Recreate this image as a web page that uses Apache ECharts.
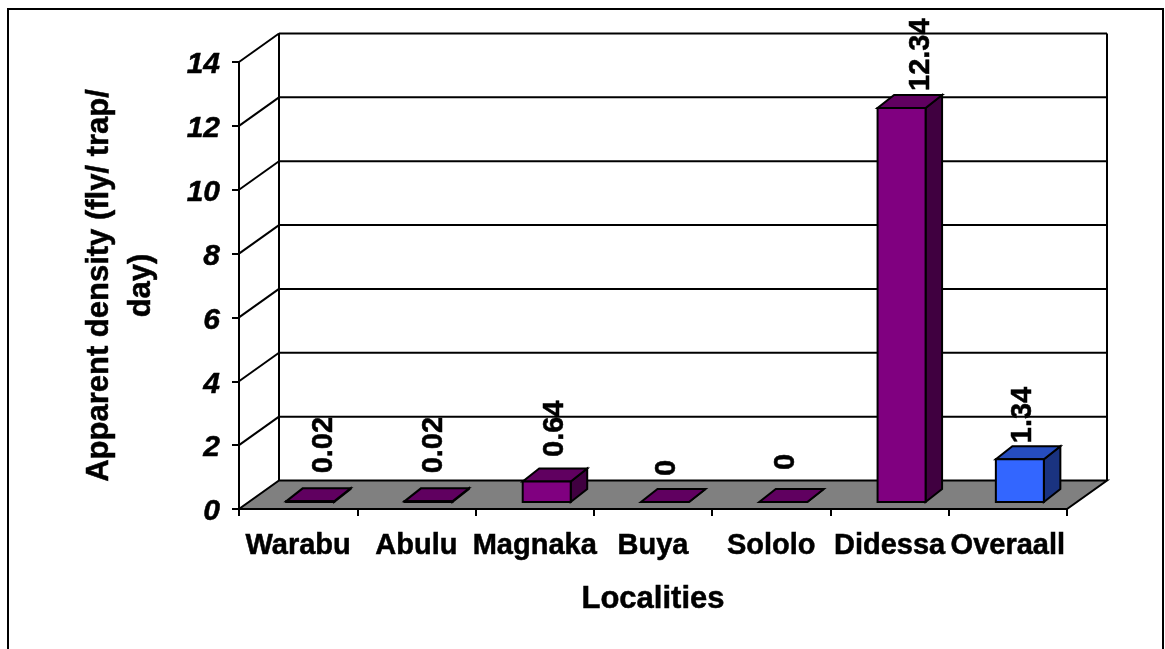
<!DOCTYPE html>
<html>
<head>
<meta charset="utf-8">
<style>html,body{margin:0;padding:0;background:#fff;overflow:hidden}#chart{width:1165px;height:649px}</style>
<script src="https://cdn.jsdelivr.net/npm/echarts@6/dist/echarts.min.js"></script>
</head>
<body>
<div id="chart"></div>
<script>
// ---- data ----
const categories = ['Warabu', 'Abulu', 'Magnaka', 'Buya', 'Sololo', 'Didessa', 'Overaall'];
const densityValues = [0.02, 0.02, 0.64, 0, 0, 12.34, 1.34];
const valueTicks = [0, 2, 4, 6, 8, 10, 12, 14];
const xAxisTitle = 'Localities';
const yAxisTitle = 'Apparent density (fly/ trap/\nday)';

// ---- style ----
const FONT = '"Liberation Sans", Arial, sans-serif';
const purple = { front: '#800080', top: '#600060', side: '#400040' };
const blue = { front: '#3366FF', top: '#264DBF', side: '#1A3380' };
const barPalette = [purple, purple, purple, purple, purple, purple, blue];
const labelDx = [25.5, 18, 20, 13.5, 15, 31, 15];
const labelDy = [-35, -35, -31.6, -33, -39, -24, -23];
const WALL_DX = 40, WALL_DY = -28.5;
const BAR_OFF_X = 12, BAR_OFF_Y = -7, BAR_W = 48, BAR_DX = 16.5, BAR_DY = -13;
const LINE = { stroke: '#000', lineWidth: 2 };
const THICK = { textBorderColor: '#000', textBorderWidth: 0.5 };

function poly(points, fill) {
  return { type: 'polygon', shape: { points }, style: { fill, stroke: '#000', lineWidth: 2, lineJoin: 'miter' } };
}

function renderWall(params, api) {
  const cs = params.coordSys;
  const v = api.value(0);
  const y = api.coord([0, v])[1];
  const xl = cs.x, xr = cs.x + cs.width;
  const children = [];
  if (v === 0) {
    children.push(poly([[xl, y], [xr, y], [xr + WALL_DX, y + WALL_DY], [xl + WALL_DX, y + WALL_DY]], '#808080'));
    const yTop = cs.y;
    children.push({ type: 'line', shape: { x1: xl + WALL_DX, y1: y + WALL_DY, x2: xl + WALL_DX, y2: yTop + WALL_DY }, style: LINE });
    children.push({ type: 'line', shape: { x1: xr + WALL_DX, y1: y + WALL_DY, x2: xr + WALL_DX, y2: yTop + WALL_DY }, style: LINE });
  } else {
    children.push({ type: 'line', shape: { x1: xl, y1: y, x2: xl + WALL_DX, y2: y + WALL_DY }, style: LINE });
    children.push({ type: 'line', shape: { x1: xl + WALL_DX, y1: y + WALL_DY, x2: xr + WALL_DX, y2: y + WALL_DY }, style: LINE });
  }
  return { type: 'group', children };
}

function renderBar(params, api) {
  const i = api.value(0);
  const v = api.value(1);
  const base = api.coord([i, 0]);
  const top = api.coord([i, v]);
  const c = barPalette[i];
  const x0 = base[0] + BAR_OFF_X - BAR_W / 2, x1 = x0 + BAR_W;
  const yB = base[1] + BAR_OFF_Y, yT = top[1] + BAR_OFF_Y;
  return {
    type: 'group',
    children: [
      poly([[x1, yB], [x1 + BAR_DX, yB + BAR_DY], [x1 + BAR_DX, yT + BAR_DY], [x1, yT]], c.side),
      poly([[x0, yT], [x1, yT], [x1 + BAR_DX, yT + BAR_DY], [x0 + BAR_DX, yT + BAR_DY]], c.top),
      poly([[x0, yB], [x1, yB], [x1, yT], [x0, yT]], c.front),
      {
        type: 'text',
        x: base[0] + labelDx[i],
        y: top[1] + labelDy[i],
        rotation: Math.PI / 2,
        z2: 50,
        style: { text: String(v), font: 'bold 29px ' + FONT, fill: '#000', stroke: '#000', lineWidth: 0.5, align: 'left', verticalAlign: 'middle' }
      }
    ]
  };
}

const chart = echarts.init(document.getElementById('chart'), null, { renderer: 'canvas' });
chart.setOption({
  animation: false,
  backgroundColor: '#fff',
  graphic: [{
    type: 'rect', z: -1,
    shape: { x: 8, y: 9, width: 1155, height: 700 },
    style: { fill: '#fff', stroke: '#000', lineWidth: 2 }
  }],
  grid: { left: 239, top: 62, width: 828, height: 447 },
  xAxis: {
    type: 'category',
    data: categories,
    z: 5,
    name: xAxisTitle,
    nameLocation: 'middle',
    nameGap: 75,
    nameTextStyle: Object.assign({ fontFamily: FONT, fontWeight: 'bold', fontSize: 31, color: '#000' }, THICK),
    axisLine: { lineStyle: { color: '#000', width: 2 } },
    axisTick: { show: true, alignWithLabel: false, length: 7, lineStyle: { color: '#000', width: 2 } },
    axisLabel: Object.assign({ interval: 0, hideOverlap: false, margin: 22, fontFamily: FONT, fontWeight: 'bold', fontSize: 29, color: '#000' }, THICK),
    splitLine: { show: false }
  },
  yAxis: {
    type: 'value',
    min: 0,
    max: 14,
    interval: 2,
    z: 5,
    name: yAxisTitle,
    nameLocation: 'middle',
    nameGap: 77,
    nameRotate: 90,
    nameTextStyle: Object.assign({ fontFamily: FONT, fontWeight: 'bold', fontSize: 31, lineHeight: 42, color: '#000', align: 'center' }, THICK),
    axisLine: { show: true, lineStyle: { color: '#000', width: 2 } },
    axisTick: { show: true, length: 7, lineStyle: { color: '#000', width: 2 } },
    axisLabel: Object.assign({ margin: 19, verticalAlign: 'top', lineHeight: 6, fontFamily: FONT, fontWeight: 'bold', fontStyle: 'italic', fontSize: 30, color: '#000' }, THICK),
    splitLine: { show: false }
  },
  series: [
    {
      type: 'custom', name: 'walls', z: 1, silent: true, clip: false,
      coordinateSystem: 'cartesian2d',
      encode: { y: 0 },
      data: valueTicks.map(v => [v]),
      renderItem: renderWall
    },
    {
      type: 'custom', name: 'density', z: 3, silent: true, clip: false,
      coordinateSystem: 'cartesian2d',
      encode: { x: 0, y: 1 },
      data: densityValues.map((v, i) => [i, v]),
      renderItem: renderBar
    }
  ]
});
</script>
</body>
</html>
